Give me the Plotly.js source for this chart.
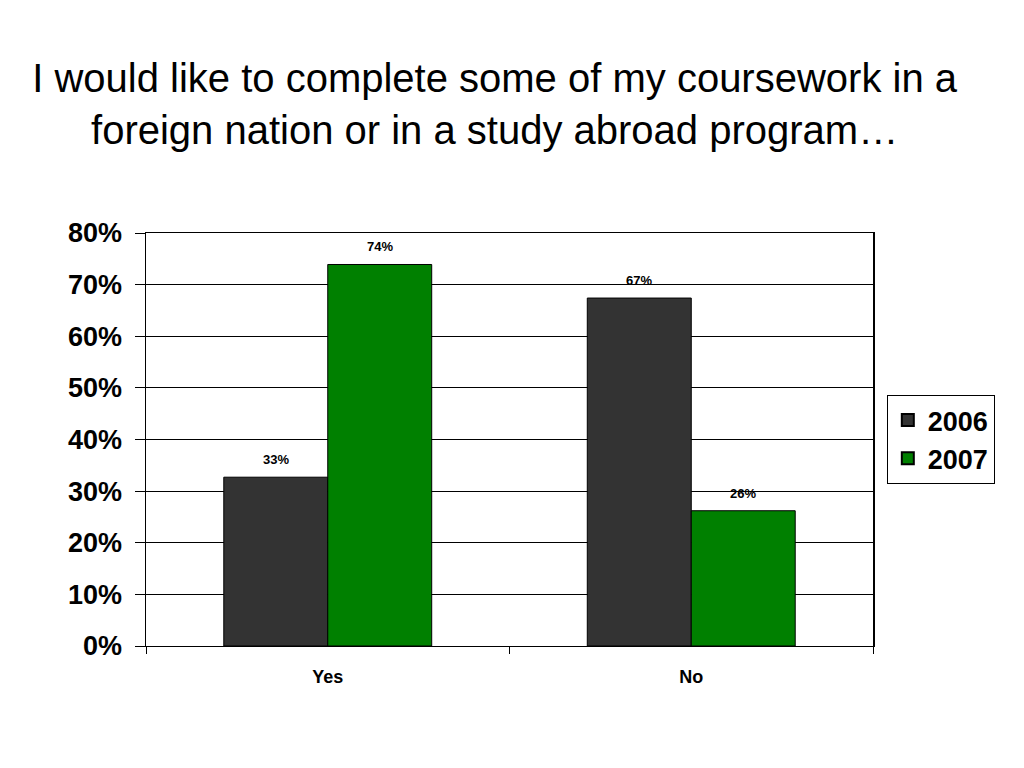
<!DOCTYPE html>
<html>
<head>
<meta charset="utf-8">
<script src="https://cdn.plot.ly/plotly-3.0.1.min.js"></script>
<style>html,body{margin:0;padding:0;background:#fff;}#chart{width:1024px;height:768px;}</style>
</head>
<body>
<div id="chart"></div>
<script>
const categories = ["Yes", "No"];
const seriesNames = ["2006", "2007"];
const values2006 = [0.327, 0.674];
const values2007 = [0.739, 0.262];
const labels2006 = ["33%", "67%"];
const labels2007 = ["74%", "26%"];
const yTickVals = [0, 0.1, 0.2, 0.3, 0.4, 0.5, 0.6, 0.7, 0.8];
const yTickText = ["0%", "10%", "20%", "30%", "40%", "50%", "60%", "70%", "80%"];

const colors = ["#333333", "#008000"];
const font = "Liberation Sans, Arial, sans-serif";

const traces = [
  {type: "bar", name: seriesNames[0], x: categories, y: values2006,
   marker: {color: colors[0], line: {color: "#000", width: 1}}, hoverinfo: "none"},
  {type: "bar", name: seriesNames[1], x: categories, y: values2007,
   marker: {color: colors[1], line: {color: "#000", width: 1}}, hoverinfo: "none"}
];

const annotations = [];
categories.forEach((c, i) => {
  annotations.push({x: c, y: values2006[i], text: labels2006[i], showarrow: false,
    xshift: -52, yshift: 8, yanchor: "bottom", font: {family: font, size: 13, color: "#000", weight: "bold"}});
  annotations.push({x: c, y: values2007[i], text: labels2007[i], showarrow: false,
    xshift: 52, yshift: 8, yanchor: "bottom", font: {family: font, size: 13, color: "#000", weight: "bold"}});
});

const layout = {
  width: 1024, height: 768,
  margin: {l: 146, r: 151, t: 233, b: 122, pad: 0},
  paper_bgcolor: "#fff", plot_bgcolor: "#fff",
  title: {text: "I would like to complete some of my coursework in a<br>foreign nation or in a study abroad program…",
    font: {family: font, size: 40, color: "#000"}, x: 0.483, xanchor: "center", y: 0.88, yanchor: "top"},
  barmode: "group", bargap: 0.428, bargroupgap: 0,
  showlegend: true,
  legend: {x: 1.019, xanchor: "left", y: 0.50, yanchor: "middle",
    bordercolor: "#000", borderwidth: 1, bgcolor: "#fff",
    font: {family: font, size: 27, color: "#000", weight: "bold"},
    itemsizing: "constant"},
  xaxis: {type: "category", showline: true, linecolor: "#000", linewidth: 1, mirror: true,
    ticks: "outside", tickson: "boundaries", ticklen: 7, tickcolor: "#000", ticklabelstandoff: 14,
    tickfont: {family: font, size: 18, color: "#000", weight: "bold"}, showgrid: false, fixedrange: true},
  yaxis: {range: [0, 0.8], tickvals: yTickVals, ticktext: yTickText,
    showline: true, linecolor: "#000", linewidth: 1.5, mirror: true,
    ticks: "outside", ticklen: 10, tickcolor: "#000", ticklabelstandoff: 7,
    showgrid: true, gridcolor: "#000", gridwidth: 1, zeroline: false,
    tickfont: {family: font, size: 27, color: "#000", weight: "bold"}, fixedrange: true},
  annotations: annotations
};

Plotly.newPlot("chart", traces, layout, {displayModeBar: false, staticPlot: true});
</script>
</body>
</html>
